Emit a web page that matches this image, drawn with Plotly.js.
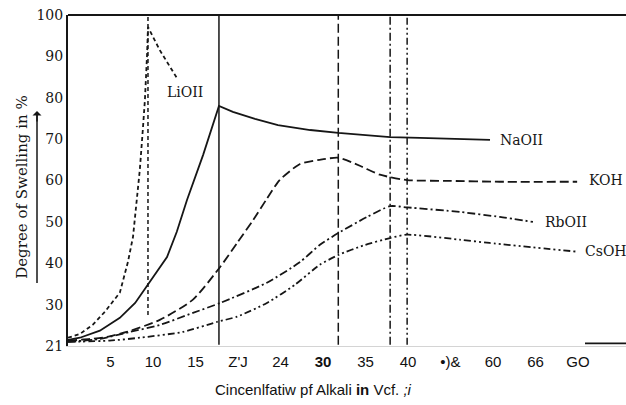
<!DOCTYPE html>
<html>
<head>
<meta charset="utf-8">
<script src="https://cdn.plot.ly/plotly-3.0.1.min.js"></script>
<style>
  html, body { margin: 0; padding: 0; background: #fff; }
  #chart { width: 626px; height: 405px; }
</style>
</head>
<body>
<div id="chart"></div>
<script>
// Concentration axis ticks (as printed)
const xTickVals = [5, 10, 15, 20, 25, 30, 35, 40, 45, 50, 55, 60];
const xTickText = ["5", "10", "15", "Z'J", "24", "<b>30</b>", "35", "40", "•)&", "60", "66", "GO"];

// Swelling axis ticks (as printed)
const yTickVals = [20, 30, 40, 50, 60, 70, 80, 90, 100];
const yTickText = ["21", "30", "40", "50", "60", "70", "80", "90", "100"];

// Series names as printed beside each curve
const seriesNames = ["LiOII", "NaOII", "KOH", "RbOII", "CsOH"];

// Concentration (%) and degree of swelling (%) for each alkali
const lioConc  = [0, 1.4, 2.9, 4.35, 6.1, 7.05, 7.65, 8.1, 8.45, 8.8, 9.05, 9.3, 9.41, 10.8, 12.8];
const lioSwell = [22.0, 22.9, 25.1, 28.3, 32.9, 40.3, 46.4, 55.3, 62.6, 72.2, 79.5, 90.3, 97.1, 91.5, 84.8];

const naoConc  = [0, 1.4, 3.75, 6.1, 7.9, 9.65, 11.65, 12.8, 14.0, 15.9, 17.76, 19.4, 22.0, 24.7, 28.5, 31.8, 37.9, 41.4, 49.65];
const naoSwell = [21.5, 22.0, 23.7, 26.8, 30.4, 35.7, 41.5, 47.6, 55.3, 66.2, 78.0, 76.6, 74.9, 73.4, 72.2, 71.5, 70.5, 70.3, 69.8];

const kohConc  = [0, 2.6, 4.6, 6.9, 10.8, 14.7, 17.9, 19.9, 21.8, 23.4, 24.9, 27.3, 29.6, 31.8, 34.4, 36.7, 39.9, 44.9, 50.8, 59.9];
const kohSwell = [21.3, 21.7, 22.2, 23.4, 26.3, 31.2, 39.1, 44.9, 50.5, 55.6, 60.1, 64.0, 65.0, 65.5, 63.5, 61.4, 60.1, 59.9, 59.7, 59.7];

const rbohConc  = [0, 3.75, 7.3, 10.8, 14.7, 17.9, 23.4, 27.3, 29.6, 31.8, 35.2, 37.9, 39.9, 46.1, 50.8, 54.7];
const rbohSwell = [21.0, 21.7, 23.4, 25.1, 28.0, 30.4, 35.3, 40.3, 44.4, 47.3, 51.2, 53.8, 53.5, 52.4, 51.2, 50.0];

const csohConc  = [0, 4.9, 8.45, 13.5, 17.5, 19.9, 23.4, 26.7, 29.6, 31.8, 34.9, 37.9, 39.9, 46.1, 49.6, 59.9];
const csohSwell = [21.0, 21.3, 22.0, 23.4, 25.8, 27.1, 30.4, 34.8, 39.6, 42.0, 44.4, 46.1, 46.9, 45.7, 44.9, 42.8];

// Lower end of each vertical line through a maximum
const peakLineBottom = [27.5, 20.3, 20.3, 20.3, 20.3];

const ink = "#161616";
const serif = "'DejaVu Serif', 'Liberation Serif', serif";
const sans = "'Liberation Sans', Arial, sans-serif";

// Plot area starts 68px in from the left edge of a 626px page
const plotLeft = 68 / 626;
const px = v => v / 626;   // horizontal page position as paper fraction

const series = [
  { x: lioConc,  y: lioSwell,  dash: "4px,3px",                     shape: "linear" },
  { x: naoConc,  y: naoSwell,  dash: "solid",                       shape: "linear" },
  { x: kohConc,  y: kohSwell,  dash: "9px,4px",                     shape: "spline" },
  { x: rbohConc, y: rbohSwell, dash: "8px,3px,2px,3px",             shape: "spline" },
  { x: csohConc, y: csohSwell, dash: "7px,3px,2px,3px,2px,3px",     shape: "spline" }
];

const traces = series.map((s, i) => ({
  type: "scatter",
  mode: "lines",
  name: seriesNames[i],
  x: s.x,
  y: s.y,
  line: { color: ink, width: 1.8, dash: s.dash, shape: s.shape, smoothing: 0.6 },
  hoverinfo: "x+y+name"
}));

// Arrow shaft beside the y title, drawn in the left margin strip (x2/y2)
traces.push({
  type: "scatter", mode: "lines", xaxis: "x2", yaxis: "y2",
  x: [37, 37], y: [0.19, 0.70],
  line: { color: ink, width: 1.5 },
  hoverinfo: "skip", showlegend: false
});

// Vertical line at each curve's maximum, in the same dash as the curve
const shapes = series.map((s, i) => {
  let k = 0;
  s.y.forEach((v, j) => { if (v > s.y[k]) k = j; });
  return {
    type: "line", xref: "x", yref: "y",
    x0: s.x[k], x1: s.x[k], y0: peakLineBottom[i], y1: 100,
    line: { color: ink, width: 1.5, dash: s.dash }
  };
});

// Heavy top frame
shapes.push({
  type: "line", xref: "paper", yref: "paper",
  x0: plotLeft, x1: 1, y0: 1, y1: 1,
  line: { color: ink, width: 2 }
});
// Short dark stretch of the base line at the right
shapes.push({
  type: "line", xref: "paper", yref: "paper",
  x0: px(585), x1: 1, y0: 0.008, y1: 0.008,
  line: { color: ink, width: 1.6 }
});

// Curve labels placed at the end of each curve
const labelOffsets = [
  { xanchor: "center", yanchor: "top", xshift: 8, yshift: -4 },
  { xanchor: "left", yanchor: "middle", xshift: 8, yshift: 0 },
  { xanchor: "left", yanchor: "middle", xshift: 10, yshift: 2 },
  { xanchor: "left", yanchor: "middle", xshift: 10, yshift: 0 },
  { xanchor: "left", yanchor: "middle", xshift: 6, yshift: 1 }
];

const annotations = series.map((s, i) => ({
  xref: "x", yref: "y",
  x: s.x[s.x.length - 1], y: s.y[s.y.length - 1],
  text: seriesNames[i],
  showarrow: false,
  xanchor: labelOffsets[i].xanchor,
  yanchor: labelOffsets[i].yanchor,
  xshift: labelOffsets[i].xshift,
  yshift: labelOffsets[i].yshift,
  font: { family: serif, size: 14, color: ink }
}));

// Rotated y title
annotations.push({
  xref: "paper", yref: "paper", x: px(22), y: 0.478,
  text: "Degree of Swelling in %",
  textangle: -90, showarrow: false,
  xanchor: "center", yanchor: "middle",
  font: { family: serif, size: 15, color: ink }
});
// Arrowhead on top of the shaft
annotations.push({
  xref: "paper", yref: "paper", x: px(37), y: 0.71,
  text: "", showarrow: true, arrowhead: 1, arrowsize: 1, arrowwidth: 1.5,
  arrowcolor: ink, ax: 0, ay: 12, axref: "pixel", ayref: "pixel"
});

// x title, centred on the page
annotations.push({
  xref: "paper", yref: "paper", x: 0.5, y: -0.13,
  text: "Cincenlfatiw pf Alkali <b>in</b> Vcf. <i>;i</i>",
  showarrow: false, xanchor: "center", yanchor: "middle",
  font: { family: sans, size: 15, color: "#111" }
});

const layout = {
  width: 626, height: 405,
  margin: { l: 0, r: 0, t: 15, b: 59, pad: 0 },
  paper_bgcolor: "#fff", plot_bgcolor: "rgba(0,0,0,0)",
  showlegend: false,
  xaxis: {
    domain: [plotLeft, 1],
    range: [0, 65.65],
    tickmode: "array", tickvals: xTickVals, ticktext: xTickText,
    ticks: "", showgrid: false, zeroline: false,
    showline: true, linecolor: "#d4d4d4", linewidth: 1.2,
    tickfont: { family: sans, size: 15, color: "#111" },
    ticklabelstandoff: 2
  },
  yaxis: {
    range: [20, 100],
    tickmode: "array", tickvals: yTickVals, ticktext: yTickText,
    ticks: "", showgrid: false, zeroline: false,
    showline: true, linecolor: ink, linewidth: 2,
    tickfont: { family: serif, size: 14, color: ink },
    ticklabelstandoff: 0
  },
  // Margin strip to the left of the plot, in page pixels
  xaxis2: { domain: [0, plotLeft], range: [0, 68], anchor: "y2", visible: false, fixedrange: true },
  yaxis2: { domain: [0, 1], range: [0, 1], anchor: "x2", visible: false, fixedrange: true },
  shapes: shapes,
  annotations: annotations
};

Plotly.newPlot("chart", traces, layout, { displayModeBar: false, staticPlot: true });
</script>
</body>
</html>
